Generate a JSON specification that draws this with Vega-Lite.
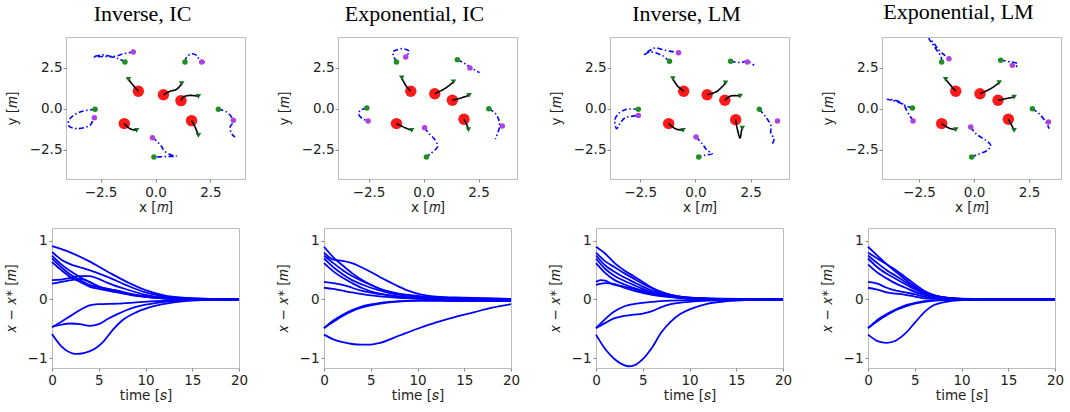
{
  "$schema": "https://vega.github.io/schema/vega-lite/v6.json",
  "background": "white",
  "padding": {"left": -34, "top": 0, "right": 2, "bottom": 2},
  "config": {
    "view": {"stroke": "#bdbdbd", "strokeWidth": 1},
    "font": "DejaVu Sans",
    "axis": {
      "domain": false, "grid": false,
      "labelFont": "DejaVu Sans", "labelFontSize": 13.5, "labelColor": "#222",
      "titleFont": "DejaVu Sans", "titleFontSize": 13.5, "titleFontWeight": "normal", "titleColor": "#222",
      "tickColor": "#888", "tickSize": 3, "labelFlush": false, "labelOverlap": false
    },
    "title": {"font": "Liberation Serif", "fontSize": 22, "fontWeight": "normal", "color": "#000", "frame": "group", "baseline": "alphabetic", "offset": 11, "dx": -13}
  },
  "datasets": {
    "pts": [
      {"p":1,"k":"red","x":-0.78,"y":1.08},{"p":1,"k":"red","x":0.36,"y":0.87},{"p":1,"k":"red","x":1.16,"y":0.51},{"p":1,"k":"red","x":-1.42,"y":-0.89},{"p":1,"k":"red","x":1.64,"y":-0.71},
      {"p":1,"k":"tri","x":-1.23,"y":1.81},{"p":1,"k":"tri","x":1.19,"y":1.54},{"p":1,"k":"tri","x":1.95,"y":0.77},{"p":1,"k":"tri","x":-0.86,"y":-1.30},{"p":1,"k":"tri","x":1.95,"y":-1.61},
      {"p":1,"k":"g","x":-1.39,"y":2.87},{"p":1,"k":"g","x":1.34,"y":2.87},{"p":1,"k":"g","x":-2.75,"y":-0.02},{"p":1,"k":"g","x":2.86,"y":-0.02},{"p":1,"k":"g","x":-0.07,"y":-2.93},
      {"p":1,"k":"m","x":-1.01,"y":3.48},{"p":1,"k":"m","x":2.10,"y":2.87},{"p":1,"k":"m","x":-2.78,"y":-0.53},{"p":1,"k":"m","x":3.54,"y":-0.69},{"p":1,"k":"m","x":-0.14,"y":-1.75},

      {"p":2,"k":"red","x":-0.58,"y":1.08},{"p":2,"k":"red","x":0.51,"y":0.93},{"p":2,"k":"red","x":1.31,"y":0.53},{"p":2,"k":"red","x":-1.23,"y":-0.89},{"p":2,"k":"red","x":1.84,"y":-0.63},
      {"p":2,"k":"tri","x":-0.99,"y":1.89},{"p":2,"k":"tri","x":1.36,"y":1.65},{"p":2,"k":"tri","x":2.07,"y":0.83},{"p":2,"k":"tri","x":-0.54,"y":-1.30},{"p":2,"k":"tri","x":2.04,"y":-1.26},
      {"p":2,"k":"g","x":-1.23,"y":2.87},{"p":2,"k":"g","x":1.54,"y":3.01},{"p":2,"k":"g","x":-2.58,"y":0.06},{"p":2,"k":"g","x":2.97,"y":0.02},{"p":2,"k":"g","x":0.13,"y":-2.93},
      {"p":2,"k":"m","x":-0.81,"y":3.17},{"p":2,"k":"m","x":2.11,"y":2.50},{"p":2,"k":"m","x":-2.52,"y":-0.73},{"p":2,"k":"m","x":3.58,"y":-1.04},{"p":2,"k":"m","x":0.05,"y":-1.14},

      {"p":3,"k":"red","x":-0.53,"y":1.08},{"p":3,"k":"red","x":0.53,"y":0.87},{"p":3,"k":"red","x":1.33,"y":0.53},{"p":3,"k":"red","x":-1.21,"y":-0.89},{"p":3,"k":"red","x":1.82,"y":-0.65},
      {"p":3,"k":"tri","x":-1.02,"y":1.85},{"p":3,"k":"tri","x":1.36,"y":1.59},{"p":3,"k":"tri","x":2.02,"y":0.79},{"p":3,"k":"tri","x":-0.56,"y":-1.30},{"p":3,"k":"tri","x":2.12,"y":-1.16},
      {"p":3,"k":"g","x":-1.17,"y":2.91},{"p":3,"k":"g","x":1.59,"y":2.91},{"p":3,"k":"g","x":-2.58,"y":-0.02},{"p":3,"k":"g","x":2.89,"y":-0.02},{"p":3,"k":"g","x":0.15,"y":-2.93},
      {"p":3,"k":"m","x":-0.76,"y":3.43},{"p":3,"k":"m","x":2.35,"y":2.87},{"p":3,"k":"m","x":-2.58,"y":-0.39},{"p":3,"k":"m","x":3.71,"y":-0.73},{"p":3,"k":"m","x":0.03,"y":-1.71},

      {"p":4,"k":"red","x":-0.83,"y":1.08},{"p":4,"k":"red","x":0.27,"y":0.93},{"p":4,"k":"red","x":1.09,"y":0.53},{"p":4,"k":"red","x":-1.47,"y":-0.89},{"p":4,"k":"red","x":1.56,"y":-0.63},
      {"p":4,"k":"tri","x":-1.29,"y":1.81},{"p":4,"k":"tri","x":1.14,"y":1.61},{"p":4,"k":"tri","x":1.82,"y":0.73},{"p":4,"k":"tri","x":-0.83,"y":-1.26},{"p":4,"k":"tri","x":1.82,"y":-1.30},
      {"p":4,"k":"g","x":-1.47,"y":2.87},{"p":4,"k":"g","x":1.21,"y":2.97},{"p":4,"k":"g","x":-2.80,"y":0.06},{"p":4,"k":"g","x":2.65,"y":0.02},{"p":4,"k":"g","x":-0.11,"y":-2.93},
      {"p":4,"k":"m","x":-1.14,"y":3.07},{"p":4,"k":"m","x":1.74,"y":2.66},{"p":4,"k":"m","x":-2.77,"y":-0.73},{"p":4,"k":"m","x":3.38,"y":-0.79},{"p":4,"k":"m","x":-0.15,"y":-1.10}
    ],
    "traj": [
      {"p":1,"k":"k","i":"a1","o":0,"x":-0.78,"y":1.08},{"p":1,"k":"k","i":"a1","o":1,"x":-1.01,"y":1.44},{"p":1,"k":"k","i":"a1","o":2,"x":-1.23,"y":1.81},
      {"p":1,"k":"k","i":"a2","o":0,"x":0.36,"y":0.87},{"p":1,"k":"k","i":"a2","o":1,"x":0.66,"y":1.08},{"p":1,"k":"k","i":"a2","o":2,"x":0.96,"y":1.20},{"p":1,"k":"k","i":"a2","o":3,"x":1.19,"y":1.54},
      {"p":1,"k":"k","i":"a3","o":0,"x":1.16,"y":0.51},{"p":1,"k":"k","i":"a3","o":1,"x":1.27,"y":0.73},{"p":1,"k":"k","i":"a3","o":2,"x":1.57,"y":0.83},{"p":1,"k":"k","i":"a3","o":3,"x":1.95,"y":0.77},
      {"p":1,"k":"k","i":"a4","o":0,"x":-1.42,"y":-0.89},{"p":1,"k":"k","i":"a4","o":1,"x":-1.16,"y":-1.20},{"p":1,"k":"k","i":"a4","o":2,"x":-0.86,"y":-1.30},
      {"p":1,"k":"k","i":"a5","o":0,"x":1.64,"y":-0.71},{"p":1,"k":"k","i":"a5","o":1,"x":1.80,"y":-1.10},{"p":1,"k":"k","i":"a5","o":2,"x":1.95,"y":-1.61},
      {"p":1,"k":"b","i":"b1","o":0,"x":-1.39,"y":2.87},{"p":1,"k":"b","i":"b1","o":1,"x":-1.75,"y":3.10},{"p":1,"k":"b","i":"b1","o":2,"x":-2.30,"y":3.20},{"p":1,"k":"b","i":"b1","o":3,"x":-2.83,"y":3.17},{"p":1,"k":"b","i":"b1","o":4,"x":-2.40,"y":3.30},{"p":1,"k":"b","i":"b1","o":5,"x":-1.90,"y":3.20},{"p":1,"k":"b","i":"b1","o":6,"x":-1.50,"y":3.35},{"p":1,"k":"b","i":"b1","o":7,"x":-1.01,"y":3.48},
      {"p":1,"k":"b","i":"b2","o":0,"x":1.34,"y":2.87},{"p":1,"k":"b","i":"b2","o":1,"x":1.42,"y":3.17},{"p":1,"k":"b","i":"b2","o":2,"x":1.64,"y":3.37},{"p":1,"k":"b","i":"b2","o":3,"x":1.87,"y":3.27},{"p":1,"k":"b","i":"b2","o":4,"x":2.02,"y":2.97},{"p":1,"k":"b","i":"b2","o":5,"x":2.25,"y":2.83},
      {"p":1,"k":"b","i":"b3","o":0,"x":-2.75,"y":-0.02},{"p":1,"k":"b","i":"b3","o":1,"x":-3.43,"y":-0.18},{"p":1,"k":"b","i":"b3","o":2,"x":-3.89,"y":-0.59},{"p":1,"k":"b","i":"b3","o":3,"x":-3.96,"y":-1.00},{"p":1,"k":"b","i":"b3","o":4,"x":-3.58,"y":-1.20},{"p":1,"k":"b","i":"b3","o":5,"x":-2.98,"y":-1.00},{"p":1,"k":"b","i":"b3","o":6,"x":-2.85,"y":-0.70},
      {"p":1,"k":"b","i":"b4","o":0,"x":2.86,"y":-0.02},{"p":1,"k":"b","i":"b4","o":1,"x":3.23,"y":-0.18},{"p":1,"k":"b","i":"b4","o":2,"x":3.46,"y":-0.49},{"p":1,"k":"b","i":"b4","o":3,"x":3.54,"y":-0.79},{"p":1,"k":"b","i":"b4","o":4,"x":3.39,"y":-1.10},{"p":1,"k":"b","i":"b4","o":5,"x":3.46,"y":-1.50},{"p":1,"k":"b","i":"b4","o":6,"x":3.61,"y":-1.71},
      {"p":1,"k":"b","i":"b5","o":0,"x":-0.14,"y":-1.75},{"p":1,"k":"b","i":"b5","o":1,"x":0.05,"y":-1.95},{"p":1,"k":"b","i":"b5","o":2,"x":0.28,"y":-2.30},{"p":1,"k":"b","i":"b5","o":3,"x":0.40,"y":-2.55},{"p":1,"k":"b","i":"b5","o":4,"x":0.70,"y":-2.80},{"p":1,"k":"b","i":"b5","o":5,"x":0.96,"y":-2.87},{"p":1,"k":"b","i":"b5","o":6,"x":0.50,"y":-2.90},{"p":1,"k":"b","i":"b5","o":7,"x":0.10,"y":-2.92},{"p":1,"k":"b","i":"b5","o":8,"x":-0.07,"y":-2.93},

      {"p":2,"k":"k","i":"a1","o":0,"x":-0.58,"y":1.08},{"p":2,"k":"k","i":"a1","o":1,"x":-0.81,"y":1.44},{"p":2,"k":"k","i":"a1","o":2,"x":-0.99,"y":1.89},
      {"p":2,"k":"k","i":"a2","o":0,"x":0.51,"y":0.93},{"p":2,"k":"k","i":"a2","o":1,"x":1.01,"y":1.28},{"p":2,"k":"k","i":"a2","o":2,"x":1.36,"y":1.65},
      {"p":2,"k":"k","i":"a3","o":0,"x":1.31,"y":0.53},{"p":2,"k":"k","i":"a3","o":1,"x":1.69,"y":0.67},{"p":2,"k":"k","i":"a3","o":2,"x":2.07,"y":0.83},
      {"p":2,"k":"k","i":"a4","o":0,"x":-1.23,"y":-0.89},{"p":2,"k":"k","i":"a4","o":1,"x":-0.81,"y":-1.16},{"p":2,"k":"k","i":"a4","o":2,"x":-0.54,"y":-1.30},
      {"p":2,"k":"k","i":"a5","o":0,"x":1.84,"y":-0.63},{"p":2,"k":"k","i":"a5","o":1,"x":1.98,"y":-1.00},{"p":2,"k":"k","i":"a5","o":2,"x":2.04,"y":-1.26},
      {"p":2,"k":"b","i":"b1","o":0,"x":-1.23,"y":2.87},{"p":2,"k":"b","i":"b1","o":1,"x":-1.34,"y":3.17},{"p":2,"k":"b","i":"b1","o":2,"x":-1.39,"y":3.48},{"p":2,"k":"b","i":"b1","o":3,"x":-1.27,"y":3.58},{"p":2,"k":"b","i":"b1","o":4,"x":-0.96,"y":3.68},{"p":2,"k":"b","i":"b1","o":5,"x":-0.66,"y":3.52},{"p":2,"k":"b","i":"b1","o":6,"x":-0.81,"y":3.17},
      {"p":2,"k":"b","i":"b2","o":0,"x":1.54,"y":3.01},{"p":2,"k":"b","i":"b2","o":1,"x":1.89,"y":2.76},{"p":2,"k":"b","i":"b2","o":2,"x":2.22,"y":2.46},{"p":2,"k":"b","i":"b2","o":3,"x":2.55,"y":2.22},
      {"p":2,"k":"b","i":"b3","o":0,"x":-2.58,"y":0.06},{"p":2,"k":"b","i":"b3","o":1,"x":-2.86,"y":-0.08},{"p":2,"k":"b","i":"b3","o":2,"x":-2.96,"y":-0.28},{"p":2,"k":"b","i":"b3","o":3,"x":-2.78,"y":-0.59},{"p":2,"k":"b","i":"b3","o":4,"x":-2.52,"y":-0.73},
      {"p":2,"k":"b","i":"b4","o":0,"x":2.97,"y":0.02},{"p":2,"k":"b","i":"b4","o":1,"x":3.27,"y":-0.28},{"p":2,"k":"b","i":"b4","o":2,"x":3.43,"y":-0.69},{"p":2,"k":"b","i":"b4","o":3,"x":3.46,"y":-1.10},{"p":2,"k":"b","i":"b4","o":4,"x":3.36,"y":-1.50},{"p":2,"k":"b","i":"b4","o":5,"x":3.27,"y":-1.85},
      {"p":2,"k":"b","i":"b5","o":0,"x":0.05,"y":-1.14},{"p":2,"k":"b","i":"b5","o":1,"x":0.25,"y":-1.50},{"p":2,"k":"b","i":"b5","o":2,"x":0.48,"y":-1.81},{"p":2,"k":"b","i":"b5","o":3,"x":0.63,"y":-2.17},{"p":2,"k":"b","i":"b5","o":4,"x":0.63,"y":-2.32},{"p":2,"k":"b","i":"b5","o":5,"x":0.33,"y":-2.72},{"p":2,"k":"b","i":"b5","o":6,"x":0.13,"y":-2.93},

      {"p":3,"k":"k","i":"a1","o":0,"x":-0.53,"y":1.08},{"p":3,"k":"k","i":"a1","o":1,"x":-0.83,"y":1.44},{"p":3,"k":"k","i":"a1","o":2,"x":-1.02,"y":1.85},
      {"p":3,"k":"k","i":"a2","o":0,"x":0.53,"y":0.87},{"p":3,"k":"k","i":"a2","o":1,"x":0.98,"y":1.08},{"p":3,"k":"k","i":"a2","o":2,"x":1.36,"y":1.59},
      {"p":3,"k":"k","i":"a3","o":0,"x":1.33,"y":0.53},{"p":3,"k":"k","i":"a3","o":1,"x":1.59,"y":0.79},{"p":3,"k":"k","i":"a3","o":2,"x":2.02,"y":0.79},
      {"p":3,"k":"k","i":"a4","o":0,"x":-1.21,"y":-0.89},{"p":3,"k":"k","i":"a4","o":1,"x":-0.91,"y":-1.20},{"p":3,"k":"k","i":"a4","o":2,"x":-0.56,"y":-1.30},
      {"p":3,"k":"k","i":"a5","o":0,"x":1.82,"y":-0.65},{"p":3,"k":"k","i":"a5","o":1,"x":1.89,"y":-1.20},{"p":3,"k":"k","i":"a5","o":2,"x":2.02,"y":-1.77},{"p":3,"k":"k","i":"a5","o":3,"x":2.08,"y":-1.35},{"p":3,"k":"k","i":"a5","o":4,"x":2.12,"y":-1.16},
      {"p":3,"k":"b","i":"b1","o":0,"x":-1.17,"y":2.91},{"p":3,"k":"b","i":"b1","o":1,"x":-1.52,"y":3.27},{"p":3,"k":"b","i":"b1","o":2,"x":-2.05,"y":3.48},{"p":3,"k":"b","i":"b1","o":3,"x":-2.35,"y":3.27},{"p":3,"k":"b","i":"b1","o":4,"x":-2.05,"y":3.58},{"p":3,"k":"b","i":"b1","o":5,"x":-1.82,"y":3.72},{"p":3,"k":"b","i":"b1","o":6,"x":-1.36,"y":3.58},{"p":3,"k":"b","i":"b1","o":7,"x":-0.76,"y":3.43},
      {"p":3,"k":"b","i":"b2","o":0,"x":1.59,"y":2.91},{"p":3,"k":"b","i":"b2","o":1,"x":2.05,"y":2.83},{"p":3,"k":"b","i":"b2","o":2,"x":2.35,"y":2.91},{"p":3,"k":"b","i":"b2","o":3,"x":2.65,"y":2.66},
      {"p":3,"k":"b","i":"b3","o":0,"x":-2.58,"y":-0.02},{"p":3,"k":"b","i":"b3","o":1,"x":-3.11,"y":-0.02},{"p":3,"k":"b","i":"b3","o":2,"x":-3.48,"y":-0.28},{"p":3,"k":"b","i":"b3","o":3,"x":-3.64,"y":-0.69},{"p":3,"k":"b","i":"b3","o":4,"x":-3.56,"y":-1.20},{"p":3,"k":"b","i":"b3","o":5,"x":-3.41,"y":-0.90},{"p":3,"k":"b","i":"b3","o":6,"x":-3.20,"y":-0.55},{"p":3,"k":"b","i":"b3","o":7,"x":-2.90,"y":-0.45},{"p":3,"k":"b","i":"b3","o":8,"x":-2.58,"y":-0.39},
      {"p":3,"k":"b","i":"b4","o":0,"x":2.89,"y":-0.02},{"p":3,"k":"b","i":"b4","o":1,"x":3.18,"y":-0.49},{"p":3,"k":"b","i":"b4","o":2,"x":3.41,"y":-1.00},{"p":3,"k":"b","i":"b4","o":3,"x":3.41,"y":-1.50},{"p":3,"k":"b","i":"b4","o":4,"x":3.56,"y":-1.81},{"p":3,"k":"b","i":"b4","o":5,"x":3.48,"y":-2.11},
      {"p":3,"k":"b","i":"b5","o":0,"x":0.03,"y":-1.71},{"p":3,"k":"b","i":"b5","o":1,"x":0.30,"y":-2.11},{"p":3,"k":"b","i":"b5","o":2,"x":0.53,"y":-2.52},{"p":3,"k":"b","i":"b5","o":3,"x":0.76,"y":-2.72},{"p":3,"k":"b","i":"b5","o":4,"x":0.38,"y":-2.83},{"p":3,"k":"b","i":"b5","o":5,"x":0.15,"y":-2.93},

      {"p":4,"k":"k","i":"a1","o":0,"x":-0.83,"y":1.08},{"p":4,"k":"k","i":"a1","o":1,"x":-1.06,"y":1.44},{"p":4,"k":"k","i":"a1","o":2,"x":-1.29,"y":1.81},
      {"p":4,"k":"k","i":"a2","o":0,"x":0.27,"y":0.93},{"p":4,"k":"k","i":"a2","o":1,"x":0.76,"y":1.24},{"p":4,"k":"k","i":"a2","o":2,"x":1.14,"y":1.61},
      {"p":4,"k":"k","i":"a3","o":0,"x":1.09,"y":0.53},{"p":4,"k":"k","i":"a3","o":1,"x":1.44,"y":0.63},{"p":4,"k":"k","i":"a3","o":2,"x":1.82,"y":0.73},
      {"p":4,"k":"k","i":"a4","o":0,"x":-1.47,"y":-0.89},{"p":4,"k":"k","i":"a4","o":1,"x":-1.14,"y":-1.16},{"p":4,"k":"k","i":"a4","o":2,"x":-0.83,"y":-1.26},
      {"p":4,"k":"k","i":"a5","o":0,"x":1.56,"y":-0.63},{"p":4,"k":"k","i":"a5","o":1,"x":1.71,"y":-1.00},{"p":4,"k":"k","i":"a5","o":2,"x":1.82,"y":-1.30},
      {"p":4,"k":"b","i":"b1","o":0,"x":-1.47,"y":2.87},{"p":4,"k":"b","i":"b1","o":1,"x":-1.50,"y":3.20},{"p":4,"k":"b","i":"b1","o":2,"x":-1.70,"y":3.60},{"p":4,"k":"b","i":"b1","o":3,"x":-1.90,"y":4.00},{"p":4,"k":"b","i":"b1","o":4,"x":-2.05,"y":4.29},{"p":4,"k":"b","i":"b1","o":5,"x":-1.82,"y":4.00},{"p":4,"k":"b","i":"b1","o":6,"x":-1.60,"y":3.60},{"p":4,"k":"b","i":"b1","o":7,"x":-1.35,"y":3.30},{"p":4,"k":"b","i":"b1","o":8,"x":-1.14,"y":3.07},
      {"p":4,"k":"b","i":"b2","o":0,"x":1.21,"y":2.97},{"p":4,"k":"b","i":"b2","o":1,"x":1.67,"y":2.87},{"p":4,"k":"b","i":"b2","o":2,"x":1.97,"y":2.76},{"p":4,"k":"b","i":"b2","o":3,"x":1.89,"y":2.56},{"p":4,"k":"b","i":"b2","o":4,"x":1.74,"y":2.66},
      {"p":4,"k":"b","i":"b3","o":0,"x":-2.80,"y":0.06},{"p":4,"k":"b","i":"b3","o":1,"x":-3.10,"y":0.20},{"p":4,"k":"b","i":"b3","o":2,"x":-3.50,"y":0.45},{"p":4,"k":"b","i":"b3","o":3,"x":-3.94,"y":0.59},{"p":4,"k":"b","i":"b3","o":4,"x":-3.50,"y":0.50},{"p":4,"k":"b","i":"b3","o":5,"x":-3.18,"y":0.22},{"p":4,"k":"b","i":"b3","o":6,"x":-3.03,"y":-0.18},{"p":4,"k":"b","i":"b3","o":7,"x":-2.88,"y":-0.49},{"p":4,"k":"b","i":"b3","o":8,"x":-2.77,"y":-0.73},
      {"p":4,"k":"b","i":"b4","o":0,"x":2.65,"y":0.02},{"p":4,"k":"b","i":"b4","o":1,"x":2.95,"y":-0.28},{"p":4,"k":"b","i":"b4","o":2,"x":3.26,"y":-0.79},{"p":4,"k":"b","i":"b4","o":3,"x":3.41,"y":-1.20},
      {"p":4,"k":"b","i":"b5","o":0,"x":-0.15,"y":-1.10},{"p":4,"k":"b","i":"b5","o":1,"x":0.08,"y":-1.50},{"p":4,"k":"b","i":"b5","o":2,"x":0.53,"y":-1.91},{"p":4,"k":"b","i":"b5","o":3,"x":0.76,"y":-2.22},{"p":4,"k":"b","i":"b5","o":4,"x":0.61,"y":-2.52},{"p":4,"k":"b","i":"b5","o":5,"x":0.15,"y":-2.78},{"p":4,"k":"b","i":"b5","o":6,"x":-0.11,"y":-2.93}
    ],
    "err": [
      {"p":1,"c":"p1","t":0,"v":0.91},{"p":1,"c":"p1","t":2,"v":0.8},{"p":1,"c":"p1","t":4,"v":0.65},{"p":1,"c":"p1","t":6,"v":0.47},{"p":1,"c":"p1","t":8,"v":0.3},{"p":1,"c":"p1","t":10,"v":0.16},{"p":1,"c":"p1","t":12,"v":0.07},{"p":1,"c":"p1","t":14,"v":0.03},{"p":1,"c":"p1","t":17,"v":0.01},{"p":1,"c":"p1","t":20,"v":0},
      {"p":1,"c":"p2","t":0,"v":0.81},{"p":1,"c":"p2","t":1,"v":0.68},{"p":1,"c":"p2","t":2,"v":0.6},{"p":1,"c":"p2","t":3,"v":0.55},{"p":1,"c":"p2","t":4,"v":0.5},{"p":1,"c":"p2","t":6,"v":0.38},{"p":1,"c":"p2","t":8,"v":0.24},{"p":1,"c":"p2","t":10,"v":0.12},{"p":1,"c":"p2","t":12,"v":0.05},{"p":1,"c":"p2","t":15,"v":0.01},{"p":1,"c":"p2","t":20,"v":0},
      {"p":1,"c":"p3","t":0,"v":0.75},{"p":1,"c":"p3","t":1,"v":0.6},{"p":1,"c":"p3","t":2,"v":0.48},{"p":1,"c":"p3","t":3,"v":0.38},{"p":1,"c":"p3","t":4,"v":0.3},{"p":1,"c":"p3","t":5,"v":0.22},{"p":1,"c":"p3","t":7,"v":0.15},{"p":1,"c":"p3","t":9,"v":0.08},{"p":1,"c":"p3","t":12,"v":0.03},{"p":1,"c":"p3","t":20,"v":0},
      {"p":1,"c":"p4","t":0,"v":0.7},{"p":1,"c":"p4","t":1,"v":0.55},{"p":1,"c":"p4","t":2,"v":0.42},{"p":1,"c":"p4","t":3,"v":0.33},{"p":1,"c":"p4","t":4,"v":0.25},{"p":1,"c":"p4","t":6,"v":0.18},{"p":1,"c":"p4","t":8,"v":0.1},{"p":1,"c":"p4","t":10,"v":0.05},{"p":1,"c":"p4","t":13,"v":0.01},{"p":1,"c":"p4","t":20,"v":0},
      {"p":1,"c":"p5","t":0,"v":0.64},{"p":1,"c":"p5","t":1,"v":0.5},{"p":1,"c":"p5","t":2,"v":0.38},{"p":1,"c":"p5","t":3,"v":0.3},{"p":1,"c":"p5","t":4,"v":0.22},{"p":1,"c":"p5","t":5,"v":0.18},{"p":1,"c":"p5","t":7,"v":0.12},{"p":1,"c":"p5","t":9,"v":0.06},{"p":1,"c":"p5","t":12,"v":0.02},{"p":1,"c":"p5","t":20,"v":0},
      {"p":1,"c":"p6","t":0,"v":0.33},{"p":1,"c":"p6","t":1,"v":0.34},{"p":1,"c":"p6","t":2,"v":0.37},{"p":1,"c":"p6","t":3,"v":0.4},{"p":1,"c":"p6","t":4,"v":0.4},{"p":1,"c":"p6","t":5,"v":0.35},{"p":1,"c":"p6","t":6,"v":0.28},{"p":1,"c":"p6","t":8,"v":0.17},{"p":1,"c":"p6","t":10,"v":0.08},{"p":1,"c":"p6","t":12,"v":0.03},{"p":1,"c":"p6","t":15,"v":0.01},{"p":1,"c":"p6","t":20,"v":0},
      {"p":1,"c":"p7","t":0,"v":0.27},{"p":1,"c":"p7","t":1,"v":0.3},{"p":1,"c":"p7","t":2,"v":0.33},{"p":1,"c":"p7","t":3,"v":0.35},{"p":1,"c":"p7","t":4,"v":0.3},{"p":1,"c":"p7","t":5,"v":0.22},{"p":1,"c":"p7","t":7,"v":0.13},{"p":1,"c":"p7","t":9,"v":0.07},{"p":1,"c":"p7","t":12,"v":0.02},{"p":1,"c":"p7","t":20,"v":0},
      {"p":1,"c":"n1","t":0,"v":-0.47},{"p":1,"c":"n1","t":1,"v":-0.38},{"p":1,"c":"n1","t":2,"v":-0.28},{"p":1,"c":"n1","t":3,"v":-0.18},{"p":1,"c":"n1","t":4,"v":-0.1},{"p":1,"c":"n1","t":5,"v":-0.08},{"p":1,"c":"n1","t":7,"v":-0.07},{"p":1,"c":"n1","t":9,"v":-0.05},{"p":1,"c":"n1","t":11,"v":-0.03},{"p":1,"c":"n1","t":14,"v":-0.01},{"p":1,"c":"n1","t":20,"v":0},
      {"p":1,"c":"n2","t":0,"v":-0.47},{"p":1,"c":"n2","t":1,"v":-0.43},{"p":1,"c":"n2","t":2,"v":-0.41},{"p":1,"c":"n2","t":3,"v":-0.42},{"p":1,"c":"n2","t":4,"v":-0.45},{"p":1,"c":"n2","t":5,"v":-0.42},{"p":1,"c":"n2","t":6,"v":-0.33},{"p":1,"c":"n2","t":7,"v":-0.25},{"p":1,"c":"n2","t":8,"v":-0.18},{"p":1,"c":"n2","t":10,"v":-0.09},{"p":1,"c":"n2","t":12,"v":-0.04},{"p":1,"c":"n2","t":15,"v":-0.01},{"p":1,"c":"n2","t":20,"v":0},
      {"p":1,"c":"n3","t":0,"v":-0.59},{"p":1,"c":"n3","t":1,"v":-0.8},{"p":1,"c":"n3","t":2,"v":-0.91},{"p":1,"c":"n3","t":2.5,"v":-0.93},{"p":1,"c":"n3","t":3.5,"v":-0.91},{"p":1,"c":"n3","t":4.5,"v":-0.85},{"p":1,"c":"n3","t":5.5,"v":-0.72},{"p":1,"c":"n3","t":6.5,"v":-0.52},{"p":1,"c":"n3","t":7.5,"v":-0.36},{"p":1,"c":"n3","t":9,"v":-0.22},{"p":1,"c":"n3","t":11,"v":-0.11},{"p":1,"c":"n3","t":13,"v":-0.05},{"p":1,"c":"n3","t":16,"v":-0.01},{"p":1,"c":"n3","t":20,"v":0},

      {"p":2,"c":"p1","t":0,"v":0.9},{"p":2,"c":"p1","t":1,"v":0.72},{"p":2,"c":"p1","t":2,"v":0.58},{"p":2,"c":"p1","t":3,"v":0.45},{"p":2,"c":"p1","t":4,"v":0.34},{"p":2,"c":"p1","t":5,"v":0.25},{"p":2,"c":"p1","t":7,"v":0.12},{"p":2,"c":"p1","t":10,"v":0.05},{"p":2,"c":"p1","t":15,"v":0.02},{"p":2,"c":"p1","t":20,"v":0.01},
      {"p":2,"c":"p2","t":0,"v":0.8},{"p":2,"c":"p2","t":1,"v":0.68},{"p":2,"c":"p2","t":2,"v":0.66},{"p":2,"c":"p2","t":3,"v":0.62},{"p":2,"c":"p2","t":4,"v":0.55},{"p":2,"c":"p2","t":5,"v":0.47},{"p":2,"c":"p2","t":6,"v":0.38},{"p":2,"c":"p2","t":7,"v":0.3},{"p":2,"c":"p2","t":8,"v":0.22},{"p":2,"c":"p2","t":9,"v":0.15},{"p":2,"c":"p2","t":10,"v":0.1},{"p":2,"c":"p2","t":12,"v":0.05},{"p":2,"c":"p2","t":15,"v":0.03},{"p":2,"c":"p2","t":20,"v":0.01},
      {"p":2,"c":"p3","t":0,"v":0.75},{"p":2,"c":"p3","t":1,"v":0.62},{"p":2,"c":"p3","t":2,"v":0.5},{"p":2,"c":"p3","t":3,"v":0.4},{"p":2,"c":"p3","t":4,"v":0.32},{"p":2,"c":"p3","t":5,"v":0.25},{"p":2,"c":"p3","t":6,"v":0.18},{"p":2,"c":"p3","t":8,"v":0.1},{"p":2,"c":"p3","t":10,"v":0.06},{"p":2,"c":"p3","t":15,"v":0.02},{"p":2,"c":"p3","t":20,"v":0.01},
      {"p":2,"c":"p4","t":0,"v":0.7},{"p":2,"c":"p4","t":1,"v":0.55},{"p":2,"c":"p4","t":2,"v":0.43},{"p":2,"c":"p4","t":3,"v":0.33},{"p":2,"c":"p4","t":4,"v":0.26},{"p":2,"c":"p4","t":5,"v":0.2},{"p":2,"c":"p4","t":7,"v":0.11},{"p":2,"c":"p4","t":10,"v":0.05},{"p":2,"c":"p4","t":15,"v":0.01},{"p":2,"c":"p4","t":20,"v":0},
      {"p":2,"c":"p5","t":0,"v":0.62},{"p":2,"c":"p5","t":1,"v":0.48},{"p":2,"c":"p5","t":2,"v":0.37},{"p":2,"c":"p5","t":3,"v":0.28},{"p":2,"c":"p5","t":4,"v":0.2},{"p":2,"c":"p5","t":5,"v":0.14},{"p":2,"c":"p5","t":7,"v":0.07},{"p":2,"c":"p5","t":10,"v":0.03},{"p":2,"c":"p5","t":20,"v":0},
      {"p":2,"c":"p6","t":0,"v":0.3},{"p":2,"c":"p6","t":1,"v":0.28},{"p":2,"c":"p6","t":2,"v":0.25},{"p":2,"c":"p6","t":3,"v":0.2},{"p":2,"c":"p6","t":4,"v":0.15},{"p":2,"c":"p6","t":6,"v":0.09},{"p":2,"c":"p6","t":8,"v":0.05},{"p":2,"c":"p6","t":10,"v":0.03},{"p":2,"c":"p6","t":15,"v":0.01},{"p":2,"c":"p6","t":20,"v":0},
      {"p":2,"c":"p7","t":0,"v":0.2},{"p":2,"c":"p7","t":1,"v":0.18},{"p":2,"c":"p7","t":2,"v":0.15},{"p":2,"c":"p7","t":3,"v":0.12},{"p":2,"c":"p7","t":5,"v":0.07},{"p":2,"c":"p7","t":7,"v":0.04},{"p":2,"c":"p7","t":10,"v":0.01},{"p":2,"c":"p7","t":15,"v":-0.01},{"p":2,"c":"p7","t":20,"v":-0.01},
      {"p":2,"c":"n1","t":0,"v":-0.49},{"p":2,"c":"n1","t":1,"v":-0.38},{"p":2,"c":"n1","t":2,"v":-0.28},{"p":2,"c":"n1","t":3,"v":-0.2},{"p":2,"c":"n1","t":4,"v":-0.14},{"p":2,"c":"n1","t":5,"v":-0.1},{"p":2,"c":"n1","t":7,"v":-0.05},{"p":2,"c":"n1","t":10,"v":-0.02},{"p":2,"c":"n1","t":15,"v":-0.01},{"p":2,"c":"n1","t":20,"v":0},
      {"p":2,"c":"n2","t":0,"v":-0.49},{"p":2,"c":"n2","t":1,"v":-0.36},{"p":2,"c":"n2","t":2,"v":-0.26},{"p":2,"c":"n2","t":3,"v":-0.18},{"p":2,"c":"n2","t":4,"v":-0.12},{"p":2,"c":"n2","t":6,"v":-0.06},{"p":2,"c":"n2","t":8,"v":-0.03},{"p":2,"c":"n2","t":10,"v":-0.02},{"p":2,"c":"n2","t":15,"v":-0.03},{"p":2,"c":"n2","t":20,"v":-0.03},
      {"p":2,"c":"n3","t":0,"v":-0.6},{"p":2,"c":"n3","t":1,"v":-0.68},{"p":2,"c":"n3","t":2,"v":-0.73},{"p":2,"c":"n3","t":3,"v":-0.76},{"p":2,"c":"n3","t":4,"v":-0.77},{"p":2,"c":"n3","t":5,"v":-0.77},{"p":2,"c":"n3","t":6,"v":-0.74},{"p":2,"c":"n3","t":8,"v":-0.62},{"p":2,"c":"n3","t":10,"v":-0.5},{"p":2,"c":"n3","t":12,"v":-0.39},{"p":2,"c":"n3","t":14,"v":-0.3},{"p":2,"c":"n3","t":16,"v":-0.22},{"p":2,"c":"n3","t":18,"v":-0.14},{"p":2,"c":"n3","t":20,"v":-0.08},

      {"p":3,"c":"p1","t":0,"v":0.9},{"p":3,"c":"p1","t":1,"v":0.78},{"p":3,"c":"p1","t":2,"v":0.62},{"p":3,"c":"p1","t":3,"v":0.5},{"p":3,"c":"p1","t":4,"v":0.4},{"p":3,"c":"p1","t":5,"v":0.3},{"p":3,"c":"p1","t":6,"v":0.2},{"p":3,"c":"p1","t":7,"v":0.13},{"p":3,"c":"p1","t":8,"v":0.08},{"p":3,"c":"p1","t":10,"v":0.03},{"p":3,"c":"p1","t":12,"v":0.01},{"p":3,"c":"p1","t":20,"v":0},
      {"p":3,"c":"p2","t":0,"v":0.8},{"p":3,"c":"p2","t":1,"v":0.65},{"p":3,"c":"p2","t":2,"v":0.55},{"p":3,"c":"p2","t":3,"v":0.45},{"p":3,"c":"p2","t":4,"v":0.36},{"p":3,"c":"p2","t":5,"v":0.27},{"p":3,"c":"p2","t":6,"v":0.19},{"p":3,"c":"p2","t":7,"v":0.12},{"p":3,"c":"p2","t":8,"v":0.08},{"p":3,"c":"p2","t":10,"v":0.03},{"p":3,"c":"p2","t":13,"v":0.01},{"p":3,"c":"p2","t":20,"v":0},
      {"p":3,"c":"p3","t":0,"v":0.75},{"p":3,"c":"p3","t":1,"v":0.58},{"p":3,"c":"p3","t":2,"v":0.47},{"p":3,"c":"p3","t":3,"v":0.38},{"p":3,"c":"p3","t":4,"v":0.3},{"p":3,"c":"p3","t":5,"v":0.22},{"p":3,"c":"p3","t":6,"v":0.15},{"p":3,"c":"p3","t":8,"v":0.07},{"p":3,"c":"p3","t":10,"v":0.03},{"p":3,"c":"p3","t":20,"v":0},
      {"p":3,"c":"p4","t":0,"v":0.7},{"p":3,"c":"p4","t":1,"v":0.52},{"p":3,"c":"p4","t":2,"v":0.4},{"p":3,"c":"p4","t":3,"v":0.32},{"p":3,"c":"p4","t":4,"v":0.25},{"p":3,"c":"p4","t":5,"v":0.18},{"p":3,"c":"p4","t":6,"v":0.12},{"p":3,"c":"p4","t":8,"v":0.06},{"p":3,"c":"p4","t":10,"v":0.02},{"p":3,"c":"p4","t":20,"v":0},
      {"p":3,"c":"p5","t":0,"v":0.62},{"p":3,"c":"p5","t":1,"v":0.45},{"p":3,"c":"p5","t":2,"v":0.33},{"p":3,"c":"p5","t":3,"v":0.26},{"p":3,"c":"p5","t":4,"v":0.2},{"p":3,"c":"p5","t":5,"v":0.15},{"p":3,"c":"p5","t":7,"v":0.07},{"p":3,"c":"p5","t":9,"v":0.03},{"p":3,"c":"p5","t":12,"v":0.01},{"p":3,"c":"p5","t":20,"v":0},
      {"p":3,"c":"p6","t":0,"v":0.3},{"p":3,"c":"p6","t":0.5,"v":0.33},{"p":3,"c":"p6","t":1,"v":0.32},{"p":3,"c":"p6","t":1.5,"v":0.28},{"p":3,"c":"p6","t":2,"v":0.25},{"p":3,"c":"p6","t":3,"v":0.22},{"p":3,"c":"p6","t":4,"v":0.18},{"p":3,"c":"p6","t":5,"v":0.13},{"p":3,"c":"p6","t":7,"v":0.07},{"p":3,"c":"p6","t":9,"v":0.03},{"p":3,"c":"p6","t":12,"v":0.01},{"p":3,"c":"p6","t":20,"v":0},
      {"p":3,"c":"p7","t":0,"v":0.25},{"p":3,"c":"p7","t":1,"v":0.28},{"p":3,"c":"p7","t":2,"v":0.26},{"p":3,"c":"p7","t":3,"v":0.2},{"p":3,"c":"p7","t":4,"v":0.15},{"p":3,"c":"p7","t":6,"v":0.08},{"p":3,"c":"p7","t":8,"v":0.04},{"p":3,"c":"p7","t":10,"v":0.01},{"p":3,"c":"p7","t":20,"v":0},
      {"p":3,"c":"n1","t":0,"v":-0.49},{"p":3,"c":"n1","t":1,"v":-0.33},{"p":3,"c":"n1","t":2,"v":-0.2},{"p":3,"c":"n1","t":3,"v":-0.12},{"p":3,"c":"n1","t":4,"v":-0.08},{"p":3,"c":"n1","t":6,"v":-0.04},{"p":3,"c":"n1","t":8,"v":-0.02},{"p":3,"c":"n1","t":10,"v":-0.01},{"p":3,"c":"n1","t":20,"v":0},
      {"p":3,"c":"n2","t":0,"v":-0.49},{"p":3,"c":"n2","t":1,"v":-0.4},{"p":3,"c":"n2","t":2,"v":-0.32},{"p":3,"c":"n2","t":3,"v":-0.28},{"p":3,"c":"n2","t":4,"v":-0.26},{"p":3,"c":"n2","t":5,"v":-0.24},{"p":3,"c":"n2","t":6,"v":-0.2},{"p":3,"c":"n2","t":7,"v":-0.13},{"p":3,"c":"n2","t":8,"v":-0.08},{"p":3,"c":"n2","t":10,"v":-0.04},{"p":3,"c":"n2","t":12,"v":-0.02},{"p":3,"c":"n2","t":15,"v":-0.01},{"p":3,"c":"n2","t":20,"v":0},
      {"p":3,"c":"n3","t":0,"v":-0.6},{"p":3,"c":"n3","t":1,"v":-0.85},{"p":3,"c":"n3","t":2,"v":-1.02},{"p":3,"c":"n3","t":3,"v":-1.12},{"p":3,"c":"n3","t":3.5,"v":-1.14},{"p":3,"c":"n3","t":4,"v":-1.13},{"p":3,"c":"n3","t":5,"v":-1.02},{"p":3,"c":"n3","t":6,"v":-0.82},{"p":3,"c":"n3","t":7,"v":-0.56},{"p":3,"c":"n3","t":8,"v":-0.38},{"p":3,"c":"n3","t":9,"v":-0.25},{"p":3,"c":"n3","t":10,"v":-0.17},{"p":3,"c":"n3","t":12,"v":-0.07},{"p":3,"c":"n3","t":14,"v":-0.03},{"p":3,"c":"n3","t":16,"v":-0.01},{"p":3,"c":"n3","t":20,"v":0},

      {"p":4,"c":"p1","t":0,"v":0.9},{"p":4,"c":"p1","t":1,"v":0.75},{"p":4,"c":"p1","t":2,"v":0.6},{"p":4,"c":"p1","t":3,"v":0.47},{"p":4,"c":"p1","t":4,"v":0.34},{"p":4,"c":"p1","t":5,"v":0.22},{"p":4,"c":"p1","t":6,"v":0.13},{"p":4,"c":"p1","t":7,"v":0.07},{"p":4,"c":"p1","t":8,"v":0.04},{"p":4,"c":"p1","t":10,"v":0.01},{"p":4,"c":"p1","t":20,"v":0},
      {"p":4,"c":"p2","t":0,"v":0.8},{"p":4,"c":"p2","t":1,"v":0.7},{"p":4,"c":"p2","t":2,"v":0.6},{"p":4,"c":"p2","t":3,"v":0.5},{"p":4,"c":"p2","t":4,"v":0.38},{"p":4,"c":"p2","t":5,"v":0.26},{"p":4,"c":"p2","t":6,"v":0.15},{"p":4,"c":"p2","t":7,"v":0.08},{"p":4,"c":"p2","t":8,"v":0.04},{"p":4,"c":"p2","t":10,"v":0.01},{"p":4,"c":"p2","t":20,"v":0},
      {"p":4,"c":"p3","t":0,"v":0.75},{"p":4,"c":"p3","t":1,"v":0.62},{"p":4,"c":"p3","t":2,"v":0.5},{"p":4,"c":"p3","t":3,"v":0.4},{"p":4,"c":"p3","t":4,"v":0.3},{"p":4,"c":"p3","t":5,"v":0.2},{"p":4,"c":"p3","t":6,"v":0.12},{"p":4,"c":"p3","t":7,"v":0.06},{"p":4,"c":"p3","t":9,"v":0.02},{"p":4,"c":"p3","t":20,"v":0},
      {"p":4,"c":"p4","t":0,"v":0.7},{"p":4,"c":"p4","t":1,"v":0.55},{"p":4,"c":"p4","t":2,"v":0.44},{"p":4,"c":"p4","t":3,"v":0.35},{"p":4,"c":"p4","t":4,"v":0.26},{"p":4,"c":"p4","t":5,"v":0.17},{"p":4,"c":"p4","t":6,"v":0.1},{"p":4,"c":"p4","t":8,"v":0.03},{"p":4,"c":"p4","t":10,"v":0.01},{"p":4,"c":"p4","t":20,"v":0},
      {"p":4,"c":"p5","t":0,"v":0.6},{"p":4,"c":"p5","t":1,"v":0.46},{"p":4,"c":"p5","t":2,"v":0.36},{"p":4,"c":"p5","t":3,"v":0.27},{"p":4,"c":"p5","t":4,"v":0.2},{"p":4,"c":"p5","t":5,"v":0.13},{"p":4,"c":"p5","t":6,"v":0.08},{"p":4,"c":"p5","t":8,"v":0.02},{"p":4,"c":"p5","t":20,"v":0},
      {"p":4,"c":"p6","t":0,"v":0.3},{"p":4,"c":"p6","t":1,"v":0.27},{"p":4,"c":"p6","t":2,"v":0.2},{"p":4,"c":"p6","t":3,"v":0.15},{"p":4,"c":"p6","t":4,"v":0.12},{"p":4,"c":"p6","t":5,"v":0.09},{"p":4,"c":"p6","t":6,"v":0.05},{"p":4,"c":"p6","t":8,"v":0.02},{"p":4,"c":"p6","t":10,"v":0},{"p":4,"c":"p6","t":20,"v":0},
      {"p":4,"c":"p7","t":0,"v":0.2},{"p":4,"c":"p7","t":1,"v":0.17},{"p":4,"c":"p7","t":2,"v":0.12},{"p":4,"c":"p7","t":3,"v":0.1},{"p":4,"c":"p7","t":4,"v":0.08},{"p":4,"c":"p7","t":5,"v":0.05},{"p":4,"c":"p7","t":6,"v":0.02},{"p":4,"c":"p7","t":8,"v":0.01},{"p":4,"c":"p7","t":20,"v":0},
      {"p":4,"c":"n1","t":0,"v":-0.49},{"p":4,"c":"n1","t":1,"v":-0.35},{"p":4,"c":"n1","t":2,"v":-0.25},{"p":4,"c":"n1","t":3,"v":-0.17},{"p":4,"c":"n1","t":4,"v":-0.1},{"p":4,"c":"n1","t":5,"v":-0.06},{"p":4,"c":"n1","t":6,"v":-0.03},{"p":4,"c":"n1","t":8,"v":-0.01},{"p":4,"c":"n1","t":20,"v":0},
      {"p":4,"c":"n2","t":0,"v":-0.49},{"p":4,"c":"n2","t":1,"v":-0.37},{"p":4,"c":"n2","t":2,"v":-0.27},{"p":4,"c":"n2","t":3,"v":-0.18},{"p":4,"c":"n2","t":4,"v":-0.12},{"p":4,"c":"n2","t":5,"v":-0.07},{"p":4,"c":"n2","t":6,"v":-0.04},{"p":4,"c":"n2","t":8,"v":-0.01},{"p":4,"c":"n2","t":20,"v":0},
      {"p":4,"c":"n3","t":0,"v":-0.6},{"p":4,"c":"n3","t":0.5,"v":-0.66},{"p":4,"c":"n3","t":1,"v":-0.71},{"p":4,"c":"n3","t":2,"v":-0.74},{"p":4,"c":"n3","t":3,"v":-0.7},{"p":4,"c":"n3","t":4,"v":-0.58},{"p":4,"c":"n3","t":5,"v":-0.4},{"p":4,"c":"n3","t":6,"v":-0.22},{"p":4,"c":"n3","t":7,"v":-0.1},{"p":4,"c":"n3","t":8,"v":-0.05},{"p":4,"c":"n3","t":10,"v":-0.01},{"p":4,"c":"n3","t":20,"v":0}
    ]
  },
  "columns": 1,
  "align": "none",
  "spacing": 12,
  "concat": [
    {
      "bounds": "flush",
      "spacing": 93,
      "hconcat": [
        {"width": 7, "height": 10, "view": {"stroke": null}, "data": {"values": []}, "mark": {"type": "point"}},
        {
          "width": 179, "height": 142,
          "title": {"text": "Inverse, IC"},
          "layer": [
            {"data": {"name": "pts"}, "transform": [{"filter": "datum.p == 1 && datum.k == 'red'"}],
             "mark": {"type": "circle", "size": 130, "color": "#ff1a1a", "opacity": 1},
             "encoding": {
               "x": {"field": "x", "type": "quantitative", "scale": {"domain": [-4.07, 4.07], "nice": false, "zero": false}, "axis": {"values": [-2.5, 0, 2.5], "format": ".1f", "title": "x [𝑚]", "labelPadding": 3, "titlePadding": 2}},
               "y": {"field": "y", "type": "quantitative", "scale": {"domain": [-4.27, 4.39], "nice": false, "zero": false}, "axis": {"values": [-2.5, 0, 2.5], "format": ".1f", "title": "y [𝑚]", "labelPadding": 1, "titlePadding": 10}}}},
            {"data": {"name": "traj"}, "transform": [{"filter": "datum.p == 1"}],
             "mark": {"type": "line", "strokeWidth": 1.6, "interpolate": "catmull-rom"},
             "encoding": {
               "x": {"field": "x", "type": "quantitative"}, "y": {"field": "y", "type": "quantitative"},
               "detail": {"field": "i"}, "order": {"field": "o"},
               "color": {"field": "k", "scale": {"domain": ["b", "k", "g", "m", "tri"], "range": ["#0000ff", "#000000", "#1f8f1f", "#b040e0", "#14701a"]}, "legend": null},
               "strokeDash": {"field": "k", "scale": {"domain": ["b", "k"], "range": [[5, 2.5, 1.5, 2.5], [1, 0]]}, "legend": null}}},
            {"data": {"name": "pts"}, "transform": [{"filter": "datum.p == 1 && datum.k != 'red'"}],
             "mark": {"type": "point", "filled": true, "opacity": 1},
             "encoding": {
               "x": {"field": "x", "type": "quantitative"}, "y": {"field": "y", "type": "quantitative"},
               "color": {"field": "k", "scale": {"domain": ["b", "k", "g", "m", "tri"], "range": ["#0000ff", "#000000", "#1f8f1f", "#b040e0", "#14701a"]}, "legend": null},
               "shape": {"field": "k", "scale": {"domain": ["g", "m", "tri"], "range": ["circle", "circle", "triangle-down"]}, "legend": null},
               "size": {"field": "k", "scale": {"domain": ["g", "m", "tri"], "range": [30, 30, 45]}, "legend": null}}}
          ]
        },
        {
          "width": 179, "height": 142,
          "title": {"text": "Exponential, IC"},
          "layer": [
            {"data": {"name": "pts"}, "transform": [{"filter": "datum.p == 2 && datum.k == 'red'"}],
             "mark": {"type": "circle", "size": 130, "color": "#ff1a1a", "opacity": 1},
             "encoding": {
               "x": {"field": "x", "type": "quantitative", "scale": {"domain": [-3.89, 4.25], "nice": false, "zero": false}, "axis": {"values": [-2.5, 0, 2.5], "format": ".1f", "title": "x [𝑚]", "labelPadding": 3, "titlePadding": 2}},
               "y": {"field": "y", "type": "quantitative", "scale": {"domain": [-4.27, 4.39], "nice": false, "zero": false}, "axis": {"values": [-2.5, 0, 2.5], "format": ".1f", "title": "y [𝑚]", "labelPadding": 1, "titlePadding": 10}}}},
            {"data": {"name": "traj"}, "transform": [{"filter": "datum.p == 2"}],
             "mark": {"type": "line", "strokeWidth": 1.6, "interpolate": "catmull-rom"},
             "encoding": {
               "x": {"field": "x", "type": "quantitative"}, "y": {"field": "y", "type": "quantitative"},
               "detail": {"field": "i"}, "order": {"field": "o"},
               "color": {"field": "k", "scale": {"domain": ["b", "k", "g", "m", "tri"], "range": ["#0000ff", "#000000", "#1f8f1f", "#b040e0", "#14701a"]}, "legend": null},
               "strokeDash": {"field": "k", "scale": {"domain": ["b", "k"], "range": [[5, 2.5, 1.5, 2.5], [1, 0]]}, "legend": null}}},
            {"data": {"name": "pts"}, "transform": [{"filter": "datum.p == 2 && datum.k != 'red'"}],
             "mark": {"type": "point", "filled": true, "opacity": 1},
             "encoding": {
               "x": {"field": "x", "type": "quantitative"}, "y": {"field": "y", "type": "quantitative"},
               "color": {"field": "k", "scale": {"domain": ["b", "k", "g", "m", "tri"], "range": ["#0000ff", "#000000", "#1f8f1f", "#b040e0", "#14701a"]}, "legend": null},
               "shape": {"field": "k", "scale": {"domain": ["g", "m", "tri"], "range": ["circle", "circle", "triangle-down"]}, "legend": null},
               "size": {"field": "k", "scale": {"domain": ["g", "m", "tri"], "range": [30, 30, 45]}, "legend": null}}}
          ]
        },
        {
          "width": 179, "height": 142,
          "title": {"text": "Inverse, LM"},
          "layer": [
            {"data": {"name": "pts"}, "transform": [{"filter": "datum.p == 3 && datum.k == 'red'"}],
             "mark": {"type": "circle", "size": 130, "color": "#ff1a1a", "opacity": 1},
             "encoding": {
               "x": {"field": "x", "type": "quantitative", "scale": {"domain": [-3.86, 4.23], "nice": false, "zero": false}, "axis": {"values": [-2.5, 0, 2.5], "format": ".1f", "title": "x [𝑚]", "labelPadding": 3, "titlePadding": 2}},
               "y": {"field": "y", "type": "quantitative", "scale": {"domain": [-4.27, 4.39], "nice": false, "zero": false}, "axis": {"values": [-2.5, 0, 2.5], "format": ".1f", "title": "y [𝑚]", "labelPadding": 1, "titlePadding": 10}}}},
            {"data": {"name": "traj"}, "transform": [{"filter": "datum.p == 3"}],
             "mark": {"type": "line", "strokeWidth": 1.6, "interpolate": "catmull-rom"},
             "encoding": {
               "x": {"field": "x", "type": "quantitative"}, "y": {"field": "y", "type": "quantitative"},
               "detail": {"field": "i"}, "order": {"field": "o"},
               "color": {"field": "k", "scale": {"domain": ["b", "k", "g", "m", "tri"], "range": ["#0000ff", "#000000", "#1f8f1f", "#b040e0", "#14701a"]}, "legend": null},
               "strokeDash": {"field": "k", "scale": {"domain": ["b", "k"], "range": [[5, 2.5, 1.5, 2.5], [1, 0]]}, "legend": null}}},
            {"data": {"name": "pts"}, "transform": [{"filter": "datum.p == 3 && datum.k != 'red'"}],
             "mark": {"type": "point", "filled": true, "opacity": 1},
             "encoding": {
               "x": {"field": "x", "type": "quantitative"}, "y": {"field": "y", "type": "quantitative"},
               "color": {"field": "k", "scale": {"domain": ["b", "k", "g", "m", "tri"], "range": ["#0000ff", "#000000", "#1f8f1f", "#b040e0", "#14701a"]}, "legend": null},
               "shape": {"field": "k", "scale": {"domain": ["g", "m", "tri"], "range": ["circle", "circle", "triangle-down"]}, "legend": null},
               "size": {"field": "k", "scale": {"domain": ["g", "m", "tri"], "range": [30, 30, 45]}, "legend": null}}}
          ]
        },
        {
          "width": 179, "height": 142,
          "title": {"text": "Exponential, LM"},
          "layer": [
            {"data": {"name": "pts"}, "transform": [{"filter": "datum.p == 4 && datum.k == 'red'"}],
             "mark": {"type": "circle", "size": 130, "color": "#ff1a1a", "opacity": 1},
             "encoding": {
               "x": {"field": "x", "type": "quantitative", "scale": {"domain": [-4.18, 3.95], "nice": false, "zero": false}, "axis": {"values": [-2.5, 0, 2.5], "format": ".1f", "title": "x [𝑚]", "labelPadding": 3, "titlePadding": 2}},
               "y": {"field": "y", "type": "quantitative", "scale": {"domain": [-4.27, 4.39], "nice": false, "zero": false}, "axis": {"values": [-2.5, 0, 2.5], "format": ".1f", "title": "y [𝑚]", "labelPadding": 1, "titlePadding": 10}}}},
            {"data": {"name": "traj"}, "transform": [{"filter": "datum.p == 4"}],
             "mark": {"type": "line", "strokeWidth": 1.6, "interpolate": "catmull-rom"},
             "encoding": {
               "x": {"field": "x", "type": "quantitative"}, "y": {"field": "y", "type": "quantitative"},
               "detail": {"field": "i"}, "order": {"field": "o"},
               "color": {"field": "k", "scale": {"domain": ["b", "k", "g", "m", "tri"], "range": ["#0000ff", "#000000", "#1f8f1f", "#b040e0", "#14701a"]}, "legend": null},
               "strokeDash": {"field": "k", "scale": {"domain": ["b", "k"], "range": [[5, 2.5, 1.5, 2.5], [1, 0]]}, "legend": null}}},
            {"data": {"name": "pts"}, "transform": [{"filter": "datum.p == 4 && datum.k != 'red'"}],
             "mark": {"type": "point", "filled": true, "opacity": 1},
             "encoding": {
               "x": {"field": "x", "type": "quantitative"}, "y": {"field": "y", "type": "quantitative"},
               "color": {"field": "k", "scale": {"domain": ["b", "k", "g", "m", "tri"], "range": ["#0000ff", "#000000", "#1f8f1f", "#b040e0", "#14701a"]}, "legend": null},
               "shape": {"field": "k", "scale": {"domain": ["g", "m", "tri"], "range": ["circle", "circle", "triangle-down"]}, "legend": null},
               "size": {"field": "k", "scale": {"domain": ["g", "m", "tri"], "range": [30, 30, 45]}, "legend": null}}}
          ]
        }
      ]
    },
    {
      "bounds": "flush",
      "spacing": 85,
      "hconcat": [
        {"width": 1, "height": 10, "view": {"stroke": null}, "data": {"values": []}, "mark": {"type": "point"}},
        {
          "width": 187, "height": 140,
          "data": {"name": "err"}, "transform": [{"filter": "datum.p == 1"}],
          "mark": {"type": "line", "interpolate": "monotone", "color": "#0000ff", "strokeWidth": 1.8},
          "encoding": {
            "x": {"field": "t", "type": "quantitative", "scale": {"domain": [0, 20], "nice": false}, "axis": {"values": [0, 5, 10, 15, 20], "title": "time [𝑠]", "labelPadding": 2, "titlePadding": 2}},
            "y": {"field": "v", "type": "quantitative", "scale": {"domain": [-1.17, 1.22], "nice": false, "zero": false}, "axis": {"values": [-1, 0, 1], "title": "𝑥 − 𝑥* [𝑚]", "labelPadding": 2, "titlePadding": 9}},
            "detail": {"field": "c"}}
        },
        {
          "width": 187, "height": 140,
          "data": {"name": "err"}, "transform": [{"filter": "datum.p == 2"}],
          "mark": {"type": "line", "interpolate": "monotone", "color": "#0000ff", "strokeWidth": 1.8},
          "encoding": {
            "x": {"field": "t", "type": "quantitative", "scale": {"domain": [0, 20], "nice": false}, "axis": {"values": [0, 5, 10, 15, 20], "title": "time [𝑠]", "labelPadding": 2, "titlePadding": 2}},
            "y": {"field": "v", "type": "quantitative", "scale": {"domain": [-1.17, 1.22], "nice": false, "zero": false}, "axis": {"values": [-1, 0, 1], "title": "𝑥 − 𝑥* [𝑚]", "labelPadding": 2, "titlePadding": 9}},
            "detail": {"field": "c"}}
        },
        {
          "width": 187, "height": 140,
          "data": {"name": "err"}, "transform": [{"filter": "datum.p == 3"}],
          "mark": {"type": "line", "interpolate": "monotone", "color": "#0000ff", "strokeWidth": 1.8},
          "encoding": {
            "x": {"field": "t", "type": "quantitative", "scale": {"domain": [0, 20], "nice": false}, "axis": {"values": [0, 5, 10, 15, 20], "title": "time [𝑠]", "labelPadding": 2, "titlePadding": 2}},
            "y": {"field": "v", "type": "quantitative", "scale": {"domain": [-1.17, 1.22], "nice": false, "zero": false}, "axis": {"values": [-1, 0, 1], "title": "𝑥 − 𝑥* [𝑚]", "labelPadding": 2, "titlePadding": 9}},
            "detail": {"field": "c"}}
        },
        {
          "width": 187, "height": 140,
          "data": {"name": "err"}, "transform": [{"filter": "datum.p == 4"}],
          "mark": {"type": "line", "interpolate": "monotone", "color": "#0000ff", "strokeWidth": 1.8},
          "encoding": {
            "x": {"field": "t", "type": "quantitative", "scale": {"domain": [0, 20], "nice": false}, "axis": {"values": [0, 5, 10, 15, 20], "title": "time [𝑠]", "labelPadding": 2, "titlePadding": 2}},
            "y": {"field": "v", "type": "quantitative", "scale": {"domain": [-1.17, 1.22], "nice": false, "zero": false}, "axis": {"values": [-1, 0, 1], "title": "𝑥 − 𝑥* [𝑚]", "labelPadding": 2, "titlePadding": 9}},
            "detail": {"field": "c"}}
        }
      ]
    }
  ]
}
